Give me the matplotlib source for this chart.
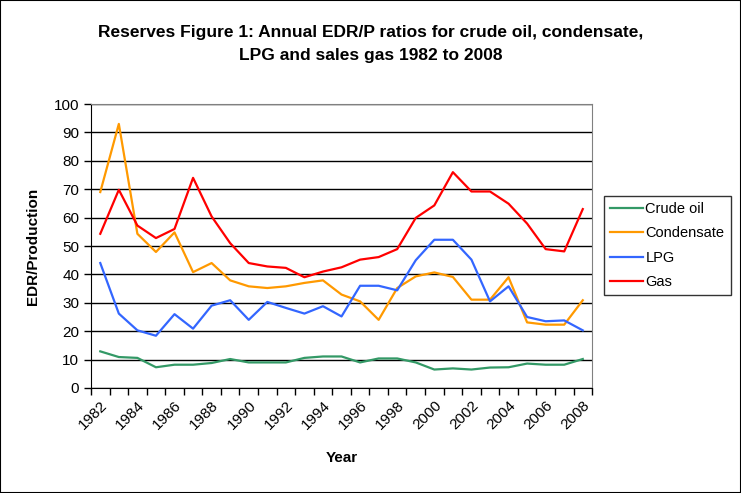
import matplotlib
matplotlib.use("Agg")
import matplotlib.pyplot as plt
import numpy as np

plt.rcParams["font.family"] = ["Liberation Sans", "DejaVu Sans"]

YEARS = list(range(1982, 2009))
CRUDE_OIL = [12.9, 10.9, 10.6, 7.3, 8.2, 8.2, 8.8, 10.2, 9.0, 9.0, 9.0, 10.6, 11.1, 11.1,
             9.0, 10.4, 10.4, 9.0, 6.5, 6.9, 6.5, 7.2, 7.3, 8.6, 8.2, 8.2, 10.2]
CONDENSATE = [69.0, 93.0, 54.3, 47.9, 54.8, 40.8, 44.0, 37.9, 35.8, 35.2, 35.8, 37.0, 37.9, 32.9,
              30.5, 24.0, 35.2, 39.3, 40.7, 39.1, 31.1, 31.1, 39.0, 23.1, 22.3, 22.3, 30.9]
LPG = [44.0, 26.2, 20.3, 18.4, 26.0, 20.9, 29.0, 30.9, 24.0, 30.3, 28.2, 26.2, 28.8, 25.2,
       36.0, 36.0, 34.4, 45.0, 52.2, 52.2, 45.2, 30.5, 35.8, 25.0, 23.5, 23.8, 20.3]
GAS = [54.3, 69.8, 57.2, 52.8, 56.0, 74.0, 60.4, 51.0, 44.0, 42.8, 42.3, 39.0, 41.0, 42.5,
       45.2, 46.1, 48.9, 59.9, 64.3, 76.0, 69.2, 69.2, 64.9, 57.9, 48.9, 48.1, 63.0]

SERIES = [
    ("Crude oil", CRUDE_OIL, "#339966"),
    ("Condensate", CONDENSATE, "#FF9900"),
    ("LPG", LPG, "#3366FF"),
    ("Gas", GAS, "#FF0000"),
]

fig = plt.figure(figsize=(7.41, 4.93), dpi=100)
ax = fig.add_axes([0.1228, 0.213, 0.6762, 0.576])

x = np.arange(len(YEARS))
handles = []
for name, values, color in SERIES:
    (line,) = ax.plot(x, values, color=color, linewidth=1.6, label=name)
    handles.append(line)

ax.set_xlim(-0.5, len(YEARS) - 0.5)
ax.set_ylim(0, 100)
ax.set_yticks(np.arange(0, 101, 10))
ax.yaxis.grid(True, color="black", linewidth=1.0)
ax.set_axisbelow(True)

ax.set_xticks(np.arange(-0.5, len(YEARS), 1.0))
ax.set_xticklabels([])
ax.set_xticks(x[::2], minor=True)
ax.set_xticklabels([str(y) for y in YEARS[::2]], minor=True, rotation=45,
                   ha="right", va="top", rotation_mode="anchor", fontsize=11)
ax.tick_params(axis="x", which="minor", length=0, pad=7)
ax.tick_params(axis="x", which="major", length=5, direction="out", width=1)
ax.tick_params(axis="y", length=5, direction="out", width=1, labelsize=11)

for side in ("top", "right"):
    ax.spines[side].set_color("#808080")
for side in ("left", "bottom"):
    ax.spines[side].set_color("black")

ax.set_xlabel("Year", fontsize=11, fontweight="bold", labelpad=14)
ax.set_ylabel("EDR/Production", fontsize=11, fontweight="bold", labelpad=10)

fig.text(0.5, 0.935, "Reserves Figure 1: Annual EDR/P ratios for crude oil, condensate,",
         ha="center", va="center", fontsize=12.5, fontweight="bold")
fig.text(0.5, 0.887, "LPG and sales gas 1982 to 2008",
         ha="center", va="center", fontsize=12.5, fontweight="bold")

leg = fig.legend(handles=handles, loc="center left", bbox_to_anchor=(0.815, 0.502),
                 fontsize=10.5, frameon=True, fancybox=False, handlelength=2.2,
                 handletextpad=0.2, borderpad=0.45, labelspacing=0.7, borderaxespad=0)
leg.get_frame().set_edgecolor("black")
leg.get_frame().set_linewidth(1.0)

fig.patches.append(plt.Rectangle((0, 0), 1, 1, transform=fig.transFigure,
                                 fill=False, edgecolor="black", linewidth=1.5))

fig.savefig("out.png", dpi=100)
